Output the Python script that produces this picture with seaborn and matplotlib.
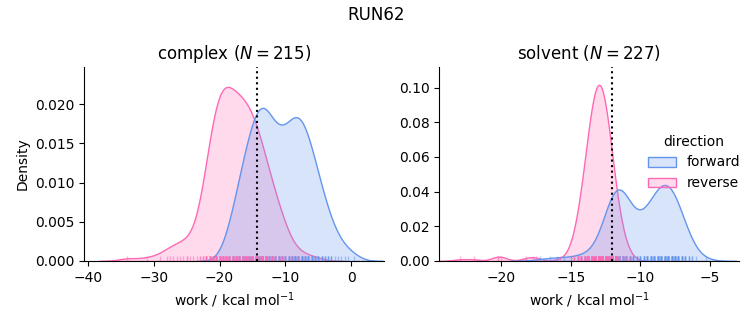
import numpy as np
import pandas as pd
import matplotlib
matplotlib.use("Agg")
import matplotlib.pyplot as plt
import seaborn as sns

# ---------------- data (work values in kcal/mol, with counts) ----------------
phases = ["complex", "solvent"]
directions = ["forward", "reverse"]
n_cycles = {"complex": 215, "solvent": 227}
dg_estimate = {"complex": -14.3, "solvent": -12.0}   # dotted vertical lines
palette = ["#6495ED", "#FF69B4"]

complex_forward_values = [-19.0, -18.5, -18.0, -17.5, -17.0, -16.5, -16.0, -15.5,
                          -15.0, -14.5, -14.0, -13.5, -13.0, -12.5, -12.0, -11.5,
                          -11.0, -10.5, -10.0, -9.5, -9.0, -8.5, -8.0, -7.5, -7.0,
                          -6.5, -6.0, -5.5, -5.0, -4.5, -4.0, -3.5, -3.0, -2.5,
                          -2.0, -1.5, -1.0, -0.5, 0.5]
complex_forward_counts = [1, 2, 3, 4, 5, 5, 7, 8,
                          8, 8, 10, 11, 11, 7, 7, 7,
                          9, 7, 6, 7, 9, 10, 9, 9, 8,
                          7, 7, 6, 5, 4, 3, 3, 3, 1,
                          1, 1, 1, 1, 1]

complex_reverse_values = [-34.0, -31.0, -29.0, -28.0, -27.5, -27.0, -26.5, -26.0,
                          -25.5, -25.0, -24.5, -24.0, -23.5, -23.0, -22.5, -22.0,
                          -21.5, -21.0, -20.5, -20.0, -19.5, -19.0, -18.5, -18.0,
                          -17.5, -17.0, -16.5, -16.0, -15.5, -15.0, -14.5, -14.0,
                          -13.5, -13.0, -12.5, -12.0, -11.5, -11.0, -10.5, -10.0,
                          -9.5, -9.0, -8.0, -7.0, -5.5]
complex_reverse_counts = [1, 1, 1, 1, 1, 1, 1, 1,
                          1, 2, 1, 1, 1, 2, 3, 6,
                          8, 9, 10, 11, 11, 11, 10, 9,
                          9, 10, 10, 9, 9, 9, 8, 8,
                          7, 6, 4, 5, 4, 3, 3, 2,
                          1, 1, 1, 1, 1]

solvent_forward_values = [-17.25, -16.5, -16.0, -15.5, -15.0, -14.5, -14.25, -14.0,
                          -13.75, -13.5, -13.25, -13.0, -12.75, -12.5, -12.25, -12.0,
                          -11.75, -11.5, -11.25, -11.0, -10.75, -10.5, -10.25, -10.0,
                          -9.75, -9.5, -9.25, -9.0, -8.75, -8.5, -8.25, -8.0,
                          -7.75, -7.5, -7.25, -7.0, -6.75, -6.5, -6.25, -6.0, -5.25]
solvent_forward_counts = [1, 1, 1, 1, 1, 1, 1, 1,
                          1, 1, 1, 2, 3, 6, 9, 11,
                          13, 12, 11, 9, 7, 5, 4, 5,
                          5, 7, 8, 9, 10, 11, 11, 12,
                          11, 10, 8, 6, 4, 3, 2, 1, 1]

solvent_reverse_values = [-23.0, -22.0, -20.25, -20.0, -18.25, -17.75, -17.5,
                          -15.75, -15.0, -14.75, -14.5, -14.25, -14.0,
                          -13.75, -13.5, -13.25, -13.0, -12.75, -12.5, -12.25, -12.0,
                          -11.75, -11.5, -11.25, -11.0, -10.75]
solvent_reverse_counts = [1, 1, 2, 1, 1, 1, 1,
                          1, 1, 3, 5, 8, 12,
                          17, 22, 25, 27, 26, 23, 18, 13,
                          8, 5, 3, 1, 1]

series = {
    ("complex", "forward"): (complex_forward_values, complex_forward_counts),
    ("complex", "reverse"): (complex_reverse_values, complex_reverse_counts),
    ("solvent", "forward"): (solvent_forward_values, solvent_forward_counts),
    ("solvent", "reverse"): (solvent_reverse_values, solvent_reverse_counts),
}

rows = []
for (phase, direction), (vals, cnts) in series.items():
    for w in np.repeat(vals, cnts):
        rows.append({"phase": phase, "direction": direction, "work": float(w)})
df = pd.DataFrame(rows)

# ---------------- plot ----------------
g = sns.displot(
    data=df, x="work", hue="direction", col="phase", kind="kde",
    fill=True, rug=True, hue_order=directions, col_order=phases,
    palette=palette, facet_kws=dict(sharex=False, sharey=False),
    rug_kws=dict(alpha=0.5, linewidth=1), height=3.25, aspect=1.0,
)

fig = g.figure
fig.set_size_inches(7.53, 3.25)

positions = {
    "complex": [84 / 753, 64 / 325, 300 / 753, 194 / 325],
    "solvent": [439.3 / 753, 64 / 325, 300 / 753, 194 / 325],
}
xlims = {"complex": (-40.6, 5.0), "solvent": (-24.47, -2.87)}
ylims = {"complex": (0, 0.02476), "solvent": (0, 0.1119)}

for ax, phase in zip(g.axes.flat, phases):
    ax.set_position(positions[phase])
    ax.axvline(dg_estimate[phase], color="black", ls=":", lw=1.5)
    ax.set_title(f"{phase} ($N = {n_cycles[phase]}$)", fontsize=12)
    ax.set_xlabel("work / kcal mol$^{-1}$")
    ax.set_xlim(*xlims[phase])
    ax.set_ylim(*ylims[phase])

g.axes.flat[0].set_ylabel("Density")
g.axes.flat[1].set_ylabel("")

fig.suptitle("RUN62", fontsize=12)

fig.savefig("out.png", dpi=100)
